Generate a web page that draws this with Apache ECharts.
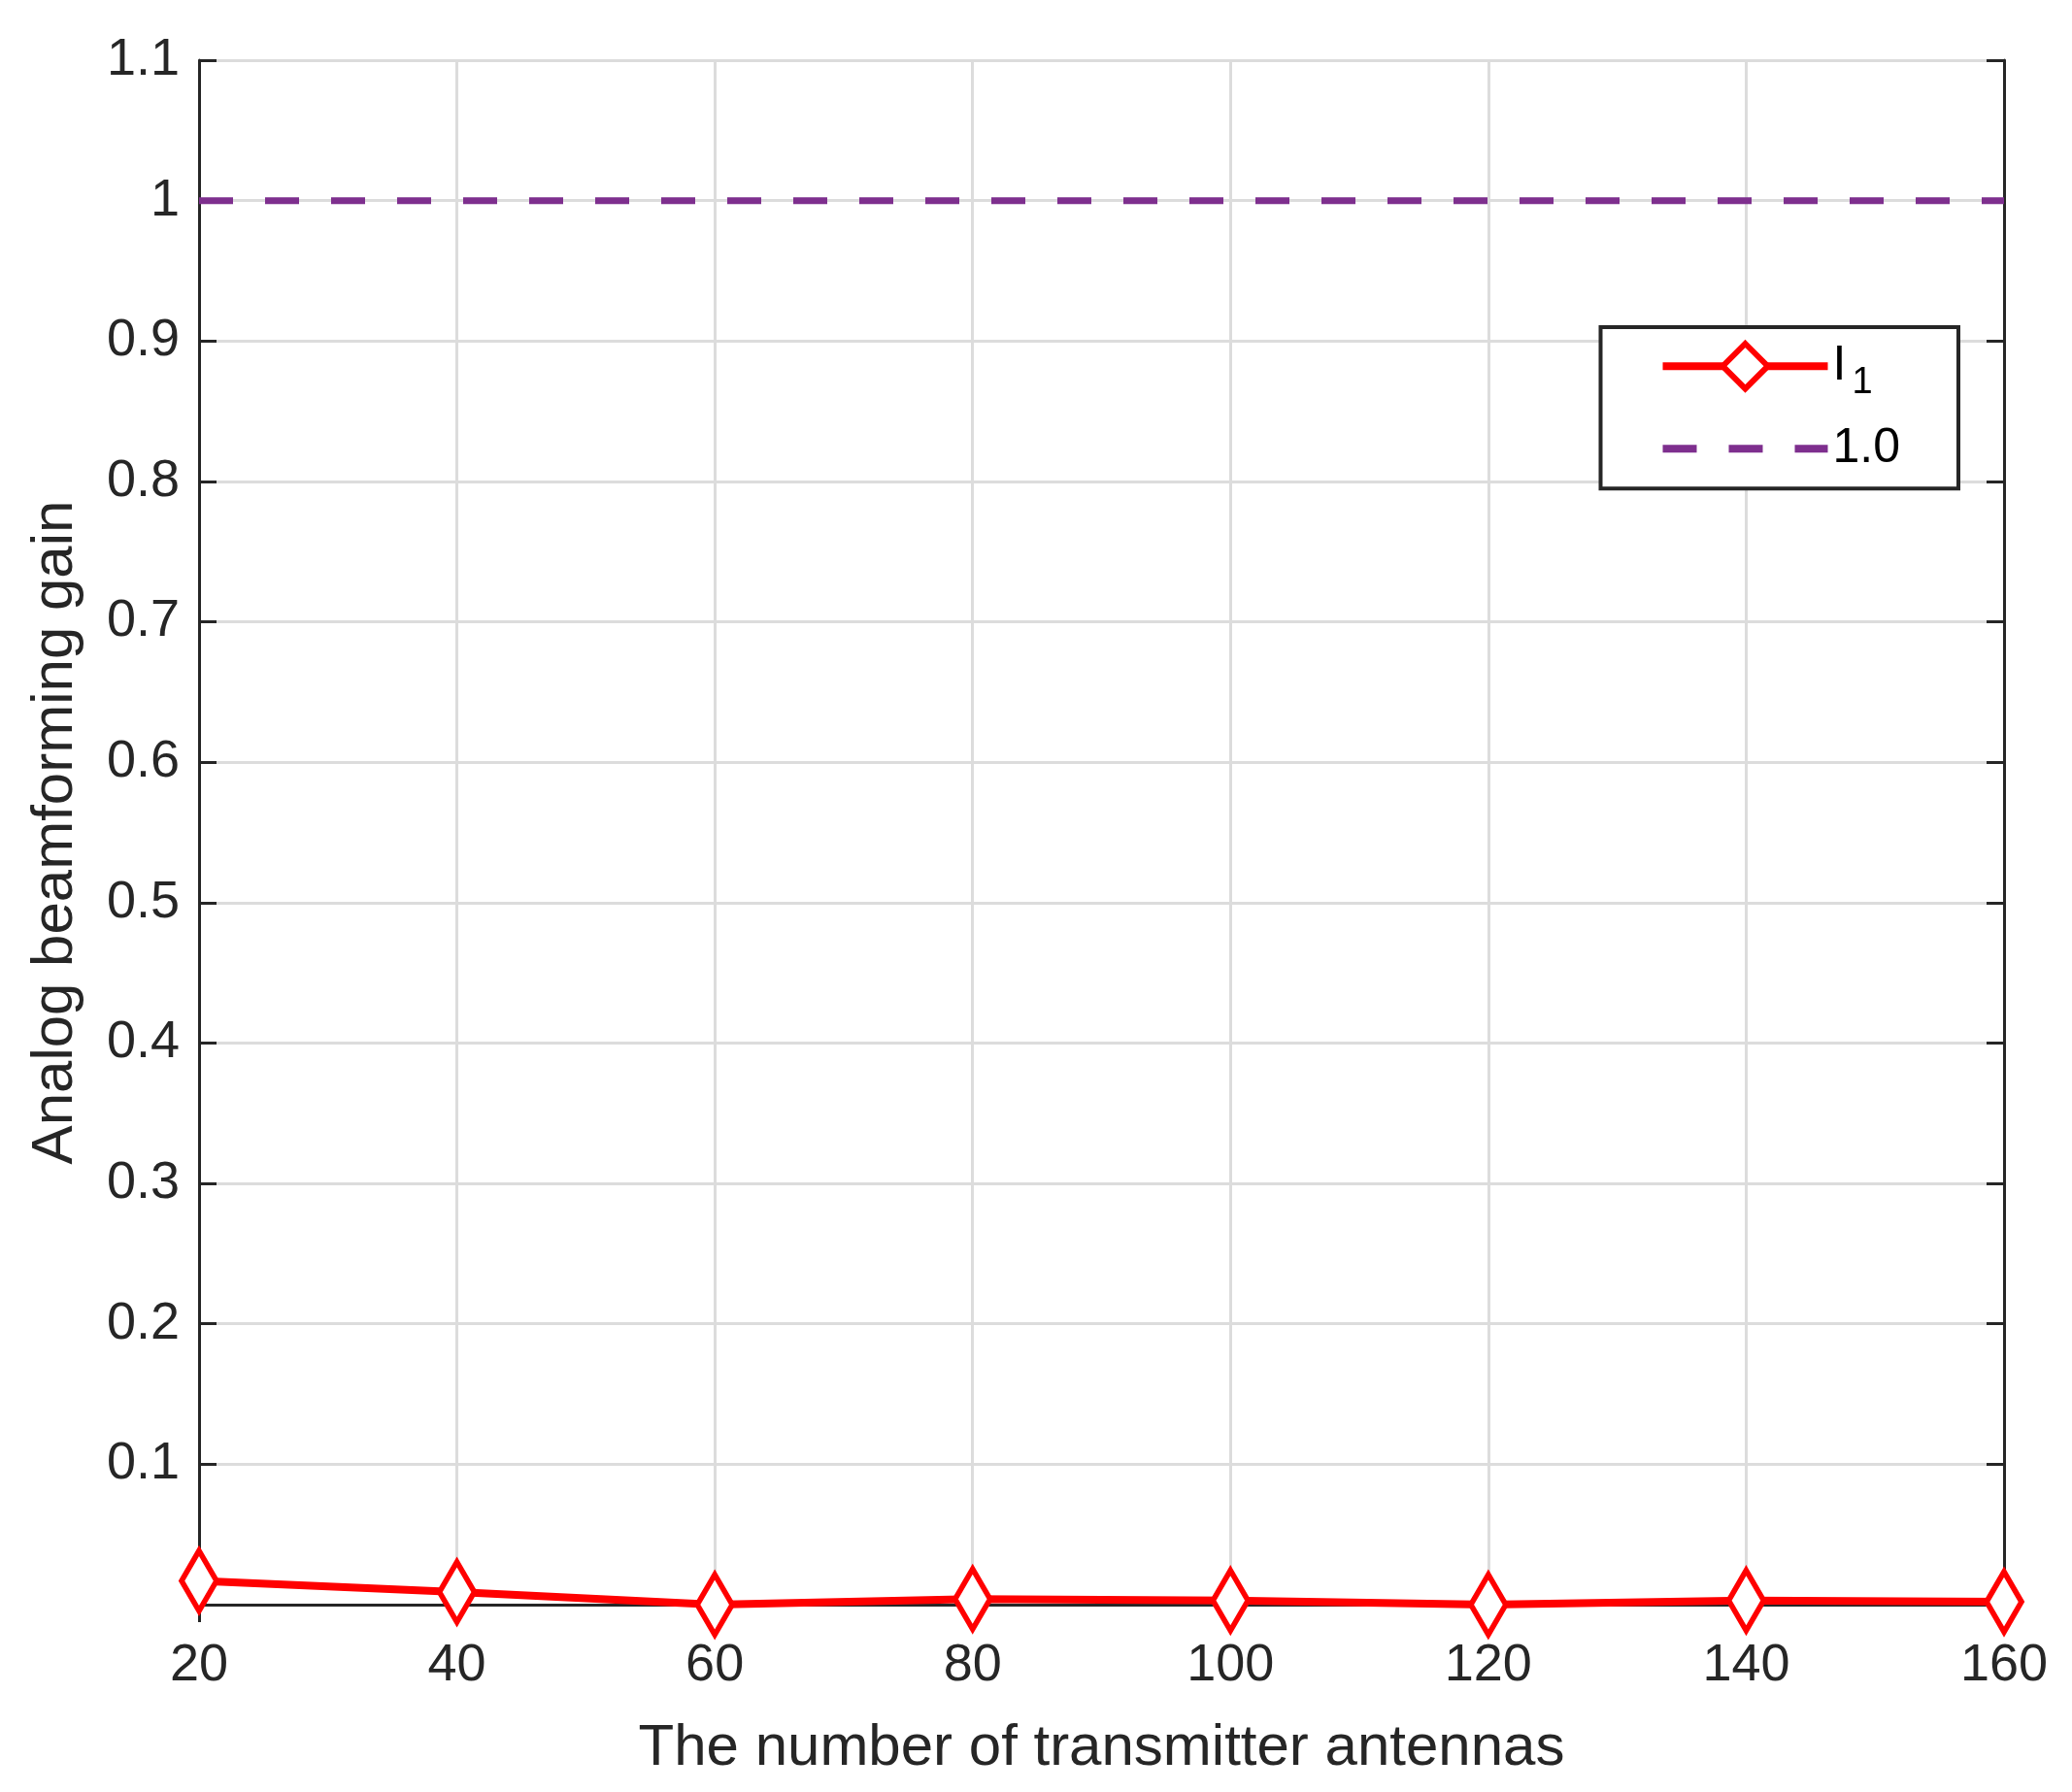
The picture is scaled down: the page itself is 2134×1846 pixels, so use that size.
<!DOCTYPE html>
<html><head><meta charset="utf-8">
<script src="https://cdn.jsdelivr.net/npm/echarts@6/dist/echarts.min.js"></script>
<style>html,body{margin:0;background:#fff}#c{width:2134px;height:1846px}</style>
</head><body><div id="c"></div>
<script>
const antennas = [20, 40, 60, 80, 100, 120, 140, 160];
const gainI1 = [0.017, 0.009, 0.0, 0.004, 0.003, 0.0, 0.003, 0.002];
const reference = [1, 1, 1, 1, 1, 1, 1, 1];

const chart = echarts.init(document.getElementById('c'));
const F = 'Liberation Sans, Arial, sans-serif';
const axC = '#262626';
const lbl = {color: axC, fontSize: 54, fontFamily: F};
chart.setOption({
  animation: false,
  grid: {left: 205, right: 70, top: 62, bottom: 193},
  legend: {
    right: 2134-2017, top: 337, orient: 'vertical', itemWidth: 170, itemHeight: 58, itemGap: 24,
    padding: [14, 60, 16, 60],
    borderColor: axC, borderWidth: 4, backgroundColor: '#fff',
    data: [
      {name: 'I1', lineStyle: {width: 8, color: '#ff0000'}, itemStyle: {color: '#fff', borderColor: '#ff0000', borderWidth: 6}},
      {name: '1.0', itemStyle: {opacity: 0}, lineStyle: {width: 8, color: '#7e2f8e', type: [35, 33]}}
    ],
    formatter: n => n === 'I1' ? '{a|I}{s|1}' : '{a|1.0}',
    textStyle: {fontFamily: F, color: '#000', rich: {a: {fontSize: 50, fontFamily: F}, s: {fontSize: 38, fontFamily: F, padding: [34, 0, 0, 6]}}}
  },
  xAxis: [{
    type: 'value', min: 20, max: 160, interval: 20,
    axisLine: {onZero: false, lineStyle: {color: axC, width: 3}},
    axisTick: {inside: true, length: 18, lineStyle: {color: axC, width: 3}},
    axisLabel: Object.assign({margin: 36, formatter: v => v}, lbl),
    splitLine: {lineStyle: {color: '#dcdcdc', width: 3}},
    name: 'The number of transmitter antennas', nameLocation: 'middle', nameGap: 118,
    nameTextStyle: {color: axC, fontSize: 60, fontFamily: F}
  }, {
    type: 'value', position: 'top', min: 20, max: 160, interval: 20,
    axisLine: {lineStyle: {color: axC, width: 3}},
    axisTick: {inside: true, length: 18, lineStyle: {color: axC, width: 3}},
    axisLabel: {show: false}, splitLine: {show: false}
  }],
  yAxis: [{
    type: 'value', min: 0, max: 1.1, interval: 0.1,
    axisLine: {lineStyle: {color: axC, width: 3}},
    axisTick: {inside: true, length: 18, lineStyle: {color: axC, width: 3}},
    axisLabel: Object.assign({margin: 20, formatter: v => v === 0 ? '' : String(+v.toFixed(1))}, lbl),
    splitLine: {lineStyle: {color: '#dcdcdc', width: 3}},
    name: 'Analog beamforming gain', nameLocation: 'middle', nameGap: 118,
    nameTextStyle: {color: axC, fontSize: 60, fontFamily: F}
  }, {
    type: 'value', position: 'right', min: 0, max: 1.1, interval: 0.1,
    axisLine: {lineStyle: {color: axC, width: 3}},
    axisTick: {inside: true, length: 18, lineStyle: {color: axC, width: 3}},
    axisLabel: {show: false}, splitLine: {show: false}
  }],
  series: [{
    name: 'I1', type: 'line', data: antennas.map((x, i) => [x, gainI1[i]]),
    symbol: 'diamond', symbolSize: [36, 62], showAllSymbol: true, clip: false,
    lineStyle: {color: '#ff0000', width: 8},
    itemStyle: {color: '#fff', borderColor: '#ff0000', borderWidth: 6},
    z: 3
  }, {
    name: '1.0', type: 'line', data: antennas.map((x, i) => [x, reference[i]]),
    symbol: 'none',
    lineStyle: {color: '#7e2f8e', width: 7, type: [35, 33]},
    itemStyle: {color: '#7e2f8e'}
  }]
});
</script></body></html>
